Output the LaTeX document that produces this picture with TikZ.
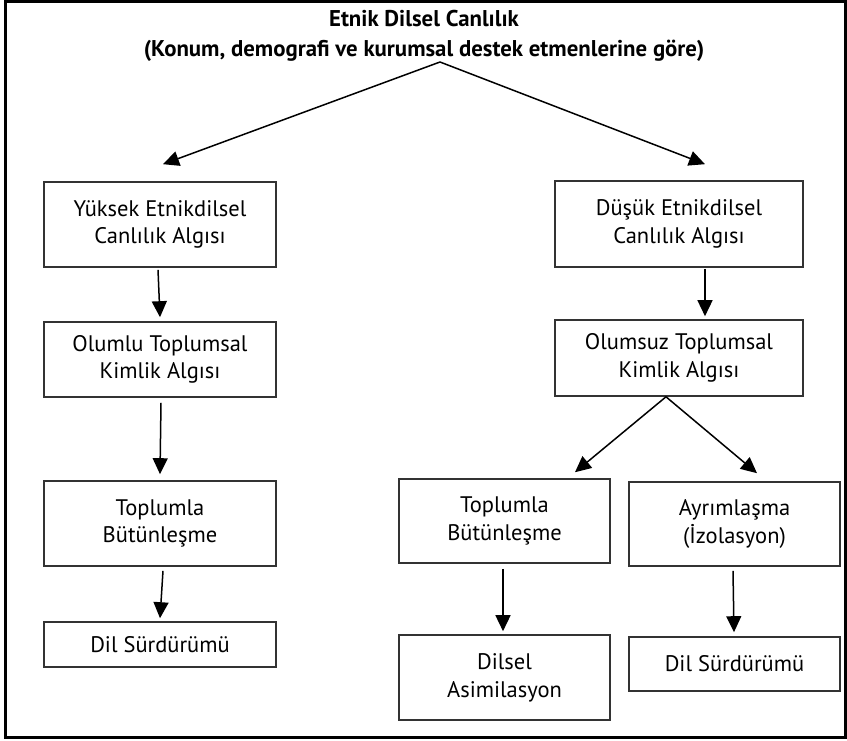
\documentclass[tikz,border=0pt]{standalone}
\usepackage{fontspec}
\setmainfont{PT Sans}
\usetikzlibrary{arrows.meta,calc}
\begin{document}
\begin{tikzpicture}[x=1pt,y=-1pt,
  box/.style={draw=black!80,line width=1.6pt,inner sep=0pt,align=center,font=\fontsize{22.5}{27.7}\selectfont},
  arr/.style={line width=1.5pt,-{Triangle[length=16pt,width=15pt]}}]
\useasboundingbox (0,0) rectangle (847,741);
\draw[line width=3pt] (5,1.5) rectangle (845.5,737.5);

\node[font=\bfseries\fontsize{22.8}{30}\selectfont,align=center,inner sep=0pt] (title) at (424,36)
  {Etnik Dilsel Canlılık\\(Konum, demografi ve kurumsal destek etmenlerine göre)};
\coordinate (apex) at (440,62);

\node[box,minimum width=232pt,minimum height=85pt] (l1) at (160,224.5) {Yüksek Etnikdilsel\\Canlılık Algısı};
\node[box,minimum width=232pt,minimum height=75pt] (l2) at (160,359.5) {Olumlu Toplumsal\\Kimlik Algısı};
\node[box,minimum width=232pt,minimum height=85pt] (l3) at (160,523.5) {Toplumla\\Bütünleşme};
\node[box,minimum width=232pt,minimum height=45pt] (l4) at (160,644.5) {Dil Sürdürümü};

\node[box,minimum width=248pt,minimum height=86pt] (r1) at (679,224) {Düşük Etnikdilsel\\Canlılık Algısı};
\node[box,minimum width=248pt,minimum height=76pt] (r2) at (679,358) {Olumsuz Toplumsal\\Kimlik Algısı};
\node[box,minimum width=211pt,minimum height=84pt] (r3a) at (504.5,521) {Toplumla\\Bütünleşme};
\node[box,minimum width=211pt,minimum height=84pt] (r3b) at (734.5,524) {Ayrımlaşma\\(İzolasyon)};
\node[box,minimum width=211pt,minimum height=85pt] (r4a) at (504.5,677.5) {Dilsel\\Asimilasyon};
\node[box,minimum width=211pt,minimum height=54pt] (r4b) at (734.5,664) {Dil Sürdürümü};

\draw[arr] (apex) -- ($(l1.north)+(3,-17)$);
\draw[arr] (apex) -- ($(r1.north)+(26,-16)$);
\draw[arr] ($(l1.south)+(-2,2)$) -- ($(l2.north)+(0,-4)$);
\draw[arr] ($(l2.south)+(1,5)$) -- ($(l3.north)+(0,-6)$);
\draw[arr] ($(l3.south)+(3,4)$) -- ($(l4.north)+(0,-3)$);
\draw[arr] ($(r1.south)+(26,1)$) -- ($(r2.north)+(26,-3)$);
\draw[arr] ($(r2.south)+(-13,0)$) -- ($(r3a.north)+(70.5,-6)$);
\draw[arr] ($(r2.south)+(-13,0)$) -- ($(r3b.north)+(22.5,-8)$);
\draw[arr] ($(r3a.south)+(-1.5,5)$) -- ($(r4a.north)+(-1.5,-3)$);
\draw[arr] ($(r3b.south)+(-1.5,4)$) -- ($(r4b.north)+(-0.5,-4)$);
\end{tikzpicture}
\end{document}
